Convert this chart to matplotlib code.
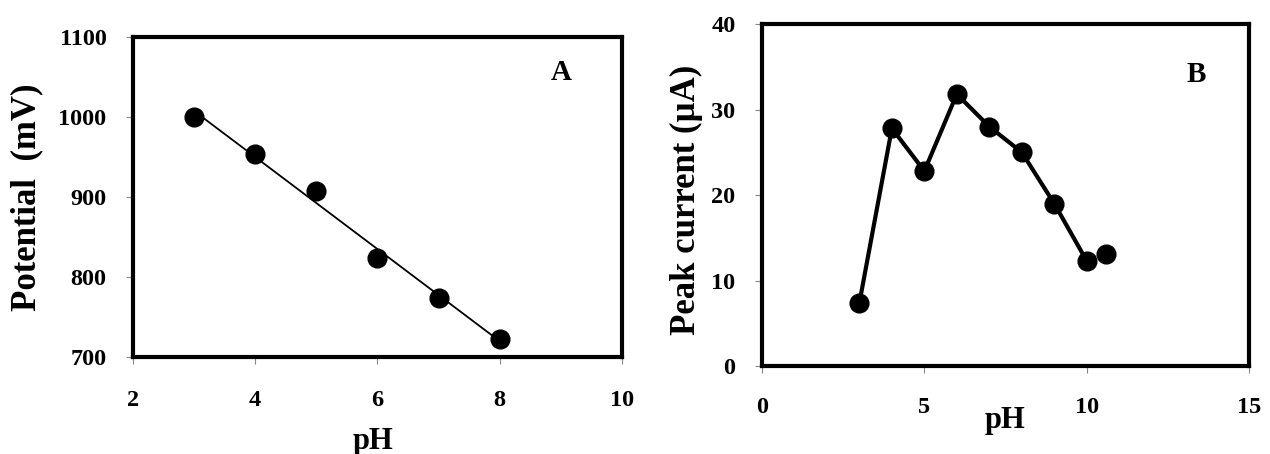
import numpy as np
import matplotlib
matplotlib.use('Agg')
import matplotlib.pyplot as plt

plt.rcParams['font.family'] = ['Liberation Serif', 'DejaVu Serif']
plt.rcParams['font.weight'] = 'bold'

# panel A: potential vs pH
ph_a = [3, 4, 5, 6, 7, 8]
potential = [1000, 954, 908, 824, 774, 722]

# panel B: peak current vs pH
ph_b = [3, 4, 5, 6, 7, 8, 9, 10]
current = [7.4, 27.8, 22.8, 31.8, 28.0, 25.0, 19.0, 12.3]
ph_extra = [10.6]
current_extra = [13.1]


def style_axes(ax):
    for s in ax.spines.values():
        s.set_linewidth(3)
    ax.tick_params(direction='out', length=5, width=0.8, color='#888888',
                   labelsize=17.5)
    ax.tick_params(axis='y', pad=14)
    for lab in ax.get_xticklabels() + ax.get_yticklabels():
        lab.set_fontweight('bold')


fig = plt.figure(figsize=(12.7, 4.54), dpi=100)

axA = fig.add_axes([0.1047, 0.2137, 0.3850, 0.7048])
slope, icpt = np.polyfit(ph_a, potential, 1)
xs = np.array([ph_a[0], ph_a[-1]])
axA.plot(xs, slope * xs + icpt, color='black', lw=1.3)
axA.plot(ph_a, potential, 'o', color='black', ms=13.5)
axA.set_xlim(2, 10)
axA.set_ylim(700, 1100)
axA.set_xticks([2, 4, 6, 8, 10])
axA.set_yticks([700, 800, 900, 1000, 1100])
style_axes(axA)
axA.tick_params(axis='x', pad=19)
axA.set_xlabel('pH', fontsize=22, fontweight='bold', labelpad=0)
axA.xaxis.set_label_coords(0.49, -0.218, transform=axA.transAxes)
axA.xaxis.label.set_va('top')
axA.set_ylabel('Potential  (mV)', fontsize=25, fontweight='bold')
axA.yaxis.set_label_coords(27 / 1270, 0.565, transform=fig.transFigure)
axA.yaxis.label.set_va('center')
axA.text(0.876, 0.8875, 'A', transform=axA.transAxes, fontsize=21,
         fontweight='bold', ha='center', va='center')

axB = fig.add_axes([0.6, 0.1938, 0.3835, 0.7533])
axB.plot(ph_b, current, '-o', color='black', lw=3, ms=13.5)
axB.plot(ph_extra, current_extra, 'o', color='black', ms=13.5)
axB.set_xlim(0, 15)
axB.set_ylim(0, 40)
axB.set_xticks([0, 5, 10, 15])
axB.set_yticks([0, 10, 20, 30, 40])
style_axes(axB)
axB.tick_params(axis='x', pad=17)
axB.set_xlabel('pH', fontsize=22, fontweight='bold')
axB.xaxis.set_label_coords(1005 / 1270, 1 - 406 / 454, transform=fig.transFigure)
axB.xaxis.label.set_va('top')
axB.set_ylabel('Peak current (µA)', fontsize=25, fontweight='bold')
axB.yaxis.set_label_coords(686 / 1270, 1 - 200 / 454, transform=fig.transFigure)
axB.yaxis.label.set_va('center')
axB.text(0.891, 0.851, 'B', transform=axB.transAxes, fontsize=21,
         fontweight='bold', ha='center', va='center')

fig.savefig('out.png', dpi=100)
